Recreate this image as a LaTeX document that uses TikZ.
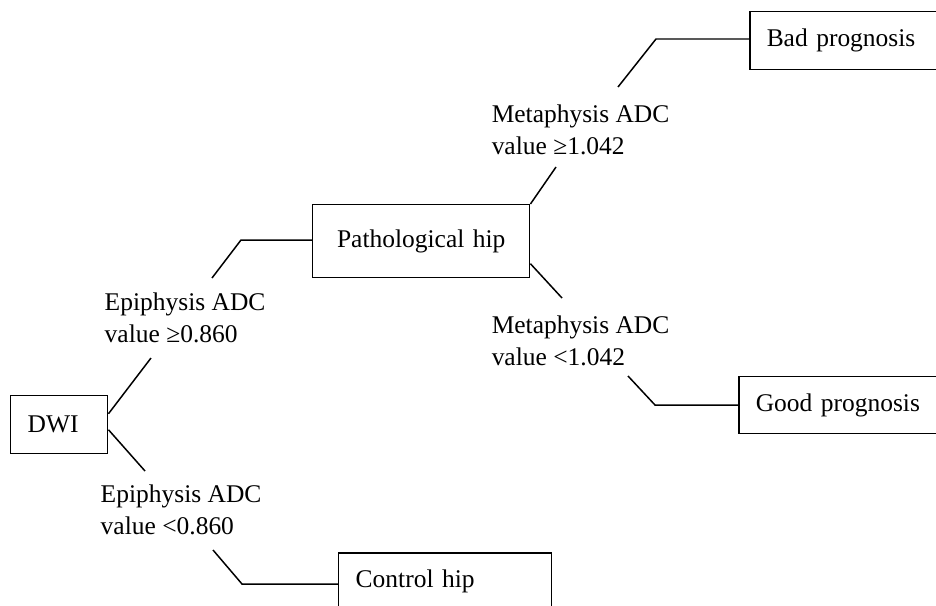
\documentclass[tikz,border=0pt]{standalone}
\usepackage{fontspec}
\setmainfont{Liberation Serif}
\usepackage{tikz}
\usetikzlibrary{positioning}

\begin{document}
\begin{tikzpicture}[
    x=0.02cm,y=-0.02cm,line width=0.85pt,
  block/.style={draw,rectangle,inner xsep=0.34cm,inner ysep=0pt,align=left,
    minimum height=1.16cm,anchor=north west,font=\fontsize{14.5pt}{17.8pt}\selectfont},
  crit/.style={inner sep=0pt,align=left,anchor=base west,font=\fontsize{14.5pt}{17.8pt}\selectfont},
]
  \useasboundingbox (0,0) rectangle (936,605);
  \clip (0,0) rectangle (936,605);

  \node[block,text width=1.26cm] (dwi) at (10,395) {DWI};
  \node[block,text width=3.66cm,align=center,minimum height=1.46cm] (path) at (312,204) {Pathological hip};
  \node[block,text width=3.58cm] (ctrl) at (338,552) {Control hip};
  \node[block,text width=5cm] (bad) at (749,11) {Bad prognosis};
  \node[block,text width=5cm,minimum height=1.14cm] (good) at (738,376) {Good prognosis};

  \node[crit] (e1) at (104,342) {Epiphysis ADC\\value ≥0.860};
  \node[crit] (e2) at (100,534) {Epiphysis ADC\\value <0.860};
  \node[crit] (m1) at (491,154) {Metaphysis ADC\\value ≥1.042};
  \node[crit] (m2) at (491,365) {Metaphysis ADC\\value <1.042};

  % bends of the branches
  \coordinate (e1lo) at (151,358);
  \coordinate (e1hi) at (212,278);
  \coordinate (e1k)  at (241,240);
  \coordinate (e2hi) at (145,471);
  \coordinate (e2lo) at (213,550);
  \coordinate (e2k)  at (242,584);
  \coordinate (m1lo) at (556,167);
  \coordinate (m1hi) at (618,87);
  \coordinate (m1k)  at (656,39);
  \coordinate (m2hi) at (562,298);
  \coordinate (m2lo) at (628,376);
  \coordinate (m2k)  at (655,405);

  \draw ([yshift=0.22cm]dwi.east) -- (e1lo);
  \draw (e1hi) -- (e1k) -- (e1k -| path.west);

  \draw ([yshift=-0.1cm]dwi.east) -- (e2hi);
  \draw (e2lo) -- (e2k) -- (e2k -| ctrl.west);

  \draw (path.north east) -- (m1lo);
  \draw (m1hi) -- (m1k) -- (m1k -| bad.west);

  \draw ([yshift=-0.45cm]path.east) -- (m2hi);
  \draw (m2lo) -- (m2k) -- (m2k -| good.west);
\end{tikzpicture}
\end{document}
